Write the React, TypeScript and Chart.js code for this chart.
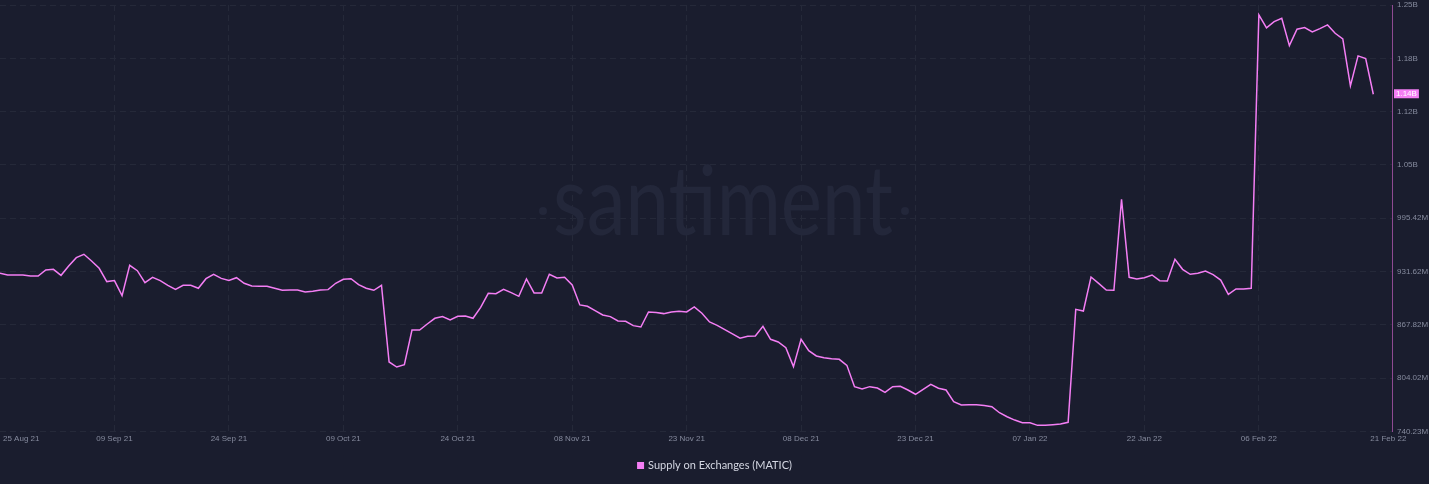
import { useEffect, useRef } from 'react';
import { Chart, registerables } from 'chart.js';

Chart.register(...registerables);

// Supply on Exchanges (MATIC), millions, one value per day from 25 Aug 2021 to 21 Feb 2022
const aug21 = [929.5, 927.5, 927.5, 927.5, 926.3, 926.3, 933.5];
const sep21 = [
  934.3, 927.1, 938.3, 948.3, 952.3, 944.3, 935.5, 919.6, 920.8, 902.8,
  939.1, 932.7, 918.4, 924.7, 920.8, 915.2, 910.4, 915.2, 915.2, 911.6,
  923.1, 928.3, 923.5, 921.1, 924.3, 917.6, 914.4, 914.0, 914.0, 911.6,
];
const oct21 = [
  909.2, 909.6, 909.6, 907.2, 908.0, 909.6, 910.0, 917.6, 922.3, 923.1,
  916.0, 911.6, 909.2, 915.2, 823.4, 817.4, 820.2, 861.7, 861.7, 868.9,
  875.7, 877.7, 873.7, 878.1, 878.5, 875.7, 888.8, 905.6, 905.2, 910.4,
  906.4,
];
const nov21 = [
  902.0, 922.8, 906.0, 906.0, 928.4, 924.0, 924.8, 915.6, 891.7, 890.1,
  884.9, 879.7, 877.7, 872.5, 872.1, 866.9, 865.3, 883.3, 882.5, 881.3,
  883.3, 884.1, 883.3, 889.3, 881.7, 871.3, 867.3, 862.1, 857.0, 851.8,
];
const dec21 = [
  854.2, 854.6, 866.1, 850.6, 847.4, 840.6, 817.9, 850.6, 837.0, 830.6,
  828.6, 827.4, 826.6, 819.4, 793.9, 791.1, 793.9, 792.3, 787.1, 793.9,
  794.3, 789.9, 784.8, 790.7, 796.7, 792.0, 789.9, 775.9, 771.9, 772.3,
  772.3,
];
const jan22 = [
  771.4, 769.9, 762.7, 757.9, 753.9, 750.8, 750.8, 747.6, 747.6, 748.4,
  749.2, 751.2, 886.4, 884.4, 925.1, 917.5, 909.6, 909.2, 1018.1, 924.7,
  922.7, 924.3, 927.5, 920.7, 920.3, 946.3, 934.3, 928.3, 929.5, 932.3,
  927.9,
];
const feb22 = [
  921.5, 904.4, 910.8, 910.8, 911.6, 1238.7, 1223.2, 1230.8, 1234.8, 1202.0,
  1221.6, 1223.6, 1218.4, 1222.4, 1226.8, 1216.8, 1210.0, 1153.8, 1189.7, 1186.5,
  1143.8,
];
const supplyValues = [...aug21, ...sep21, ...oct21, ...nov21, ...dec21, ...jan22, ...feb22];

const xTickDays = [0, 15, 30, 45, 60, 75, 90, 105, 120, 135, 150, 165, 180];
const xTickLabels = [
  '25 Aug 21', '09 Sep 21', '24 Sep 21', '09 Oct 21', '24 Oct 21', '08 Nov 21', '23 Nov 21',
  '08 Dec 21', '23 Dec 21', '07 Jan 22', '22 Jan 22', '06 Feb 22', '21 Feb 22',
];
const yTickValues = [740.23, 804.02, 867.82, 931.62, 995.42, 1059.22, 1123.02, 1186.82, 1250.62];
const yTickLabels = ['740.23M', '804.02M', '867.82M', '931.62M', '995.42M', '1.05B', '1.12B', '1.18B', '1.25B'];

const seriesLabel = 'Supply on Exchanges (MATIC)';

const BG = '#1a1d2e';
const LINE = '#f47ef4';
const GRID = '#252939';
const TEXT = '#868b9e';
const X_MAX = 182.45;

function fmt(v: number) {
  if (v >= 1000) return (Math.floor(v / 10) / 100).toFixed(2) + 'B';
  return v.toFixed(2) + 'M';
}

const bgPlugin = {
  id: 'bgFill',
  beforeDraw(chart: any) {
    const { ctx, width, height } = chart;
    ctx.save();
    ctx.fillStyle = BG;
    ctx.fillRect(0, 0, width, height);
    ctx.restore();
  },
};

const watermarkPlugin = {
  id: 'watermark',
  beforeDatasetsDraw(chart: any) {
    const ctx = chart.ctx;
    const cx = 723;
    const baseline = 235;
    const targetW = 340;
    ctx.save();
    ctx.fillStyle = '#23273a';
    ctx.font = '400 97px Lato, "Open Sans", sans-serif';
    ctx.textBaseline = 'alphabetic';
    ctx.textAlign = 'left';
    const w = ctx.measureText('santiment').width;
    const sx = targetW / w;
    ctx.save();
    ctx.translate(cx - targetW / 2, baseline);
    ctx.scale(sx, 1);
    ctx.fillText('santiment', 0, 0);
    ctx.restore();
    ctx.beginPath();
    ctx.arc(cx - targetW / 2 - 10, 211, 4, 0, Math.PI * 2);
    ctx.fill();
    ctx.beginPath();
    ctx.arc(cx + targetW / 2 + 12, 211, 4, 0, Math.PI * 2);
    ctx.fill();
    ctx.restore();
  },
};

const overlayPlugin = {
  id: 'overlay',
  afterDraw(chart: any) {
    const ctx = chart.ctx;
    const xs = chart.scales.x;
    const ys = chart.scales.y;
    const area = chart.chartArea;
    ctx.save();
    // x labels
    ctx.font = '8px "Liberation Sans", Arial, sans-serif';
    ctx.fillStyle = TEXT;
    ctx.textBaseline = 'middle';
    const ly = area.bottom + 7;
    xTickDays.forEach((d, i) => {
      const px = xs.getPixelForValue(d);
      if (i === 0) {
        ctx.textAlign = 'left';
        ctx.fillText(xTickLabels[i], px + 3, ly);
      } else if (i === xTickDays.length - 1) {
        ctx.textAlign = 'left';
        ctx.fillText(xTickLabels[i], px - 3, ly);
      } else {
        ctx.textAlign = 'center';
        ctx.fillText(xTickLabels[i], px, ly);
      }
    });
    // last value tag
    const last = supplyValues[supplyValues.length - 1];
    const ty = ys.getPixelForValue(last);
    const txt = fmt(last);
    const tw = ctx.measureText(txt).width;
    ctx.fillStyle = LINE;
    ctx.fillRect(area.right + 2, ty - 5, tw + 4, 9);
    ctx.fillStyle = '#ffffff';
    ctx.textAlign = 'left';
    ctx.fillText(txt, area.right + 4, ty);
    // legend
    ctx.font = '11px Lato, "Open Sans", sans-serif';
    const lw = ctx.measureText(seriesLabel).width;
    const total = 7 + 4 + lw;
    const lx = chart.width / 2 - total / 2;
    const legY = 465.5;
    ctx.fillStyle = LINE;
    ctx.fillRect(lx, legY - 3.5, 7, 7);
    ctx.fillStyle = '#d4d7e2';
    ctx.textAlign = 'left';
    ctx.fillText(seriesLabel, lx + 11, legY);
    ctx.restore();
  },
};

export default function App() {
  const ref = useRef<HTMLCanvasElement | null>(null);
  useEffect(() => {
    if (!ref.current) return;
    document.body.style.margin = '0';
    document.body.style.background = BG;
    const chart = new Chart(ref.current, {
      type: 'line',
      data: {
        datasets: [
          {
            label: seriesLabel,
            data: supplyValues.map((v, i) => ({ x: i, y: v })),
            borderColor: LINE,
            backgroundColor: LINE,
            borderWidth: 1.5,
            pointRadius: 0,
            tension: 0,
            fill: false,
          },
        ],
      },
      options: {
        animation: false,
        responsive: true,
        maintainAspectRatio: false,
        layout: { padding: { top: 5, bottom: 32.5, left: 0, right: 0 } },
        plugins: { legend: { display: false }, tooltip: { enabled: false } },
        scales: {
          x: {
            type: 'linear',
            min: 0,
            max: X_MAX,
            afterBuildTicks: (s: any) => {
              s.ticks = xTickDays.map((v) => ({ value: v }));
            },
            afterFit: (s: any) => {
              s.height = 20;
              s.paddingLeft = 0;
              s.paddingRight = 0;
            },
            ticks: { display: false },
            grid: {
              drawTicks: false,
              color: (c: any) =>
                c.tick && (c.tick.value === 0 || c.tick.value === 180) ? 'rgba(0,0,0,0)' : GRID,
              lineWidth: 1,
            },
            border: { display: false, dash: [6, 4] },
          },
          y: {
            type: 'linear',
            position: 'right',
            min: yTickValues[0],
            max: yTickValues[yTickValues.length - 1],
            afterBuildTicks: (s: any) => {
              s.ticks = yTickValues.map((v) => ({ value: v }));
            },
            afterFit: (s: any) => {
              s.width = 37;
              s.paddingTop = 0;
              s.paddingBottom = 0;
            },
            ticks: {
              padding: 5,
              color: TEXT,
              font: { family: '"Liberation Sans", Arial, sans-serif', size: 8 },
              callback: (_v: any, i: number) => yTickLabels[i],
            },
            grid: { drawTicks: false, color: GRID, lineWidth: 1 },
            border: { display: true, color: '#8e4a92', width: 1, dash: [6, 4] },
          },
        },
      },
      plugins: [bgPlugin, watermarkPlugin, overlayPlugin],
    } as any);
    return () => chart.destroy();
  }, []);
  return (
    <div style={{ position: 'fixed', left: 0, top: 0, width: 1429, height: 484, background: BG }}>
      <canvas ref={ref} />
    </div>
  );
}
